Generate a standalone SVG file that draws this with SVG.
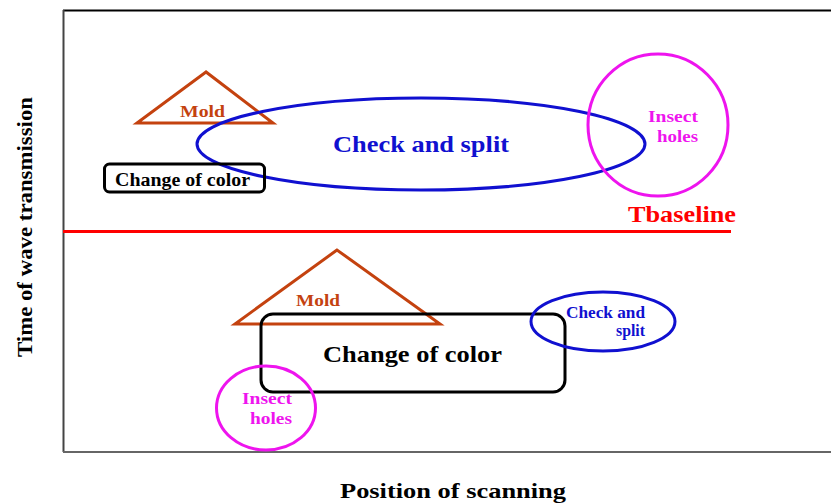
<svg xmlns="http://www.w3.org/2000/svg" width="831" height="503" viewBox="0 0 831 503">
  <style>
    text { font-family: "Liberation Serif", "Times New Roman", serif; font-weight: bold; }
    .mold { fill: none; stroke: #c4420f; stroke-width: 3; }
    .check { fill: none; stroke: #1010d0; stroke-width: 3; }
    .insect { fill: none; stroke: #ee14ee; stroke-width: 3; }
    .color { fill: none; stroke: #000; stroke-width: 3; }
    .t-mold { fill: #c4420f; }
    .t-check { fill: #1010d0; }
    .t-insect { fill: #ee14ee; }
    .t-color { fill: #000; }
  </style>
  <rect width="831" height="503" fill="#fff"/>

  <!-- plot frame -->
  <g id="frame">
    <line x1="63" y1="10.5" x2="831" y2="10.5" stroke="#000" stroke-width="2"/>
    <line x1="63.5" y1="10" x2="63.5" y2="452" stroke="#444" stroke-width="2"/>
    <line x1="63" y1="452" x2="831" y2="452" stroke="#666" stroke-width="2"/>
  </g>

  <!-- baseline threshold -->
  <g id="baseline">
    <line x1="63" y1="231.5" x2="731" y2="231.5" stroke="#ff0000" stroke-width="3"/>
    <text x="628" y="222" font-size="23" fill="#ff0000" textLength="108" lengthAdjust="spacingAndGlyphs">Tbaseline</text>
  </g>

  <!-- above baseline -->
  <g id="mold-top">
    <polygon class="mold" points="206,72 137,123 273,123"/>
    <text class="t-mold" x="180" y="117" font-size="16.5" textLength="45" lengthAdjust="spacingAndGlyphs">Mold</text>
  </g>
  <g id="check-top">
    <ellipse class="check" cx="421" cy="144" rx="224" ry="46"/>
    <text class="t-check" x="333" y="152" font-size="23" textLength="176" lengthAdjust="spacingAndGlyphs">Check and split</text>
  </g>
  <g id="insect-top">
    <ellipse class="insect" cx="658" cy="125" rx="70" ry="71"/>
    <text class="t-insect" x="648" y="122" font-size="17" textLength="50" lengthAdjust="spacingAndGlyphs">Insect</text>
    <text class="t-insect" x="657" y="142" font-size="17" textLength="41" lengthAdjust="spacingAndGlyphs">holes</text>
  </g>
  <g id="color-top">
    <rect class="color" x="104.5" y="164" width="160" height="28" rx="5"/>
    <text class="t-color" x="115" y="186" font-size="18" textLength="135" lengthAdjust="spacingAndGlyphs">Change of color</text>
  </g>

  <!-- below baseline -->
  <g id="mold-bottom">
    <polygon class="mold" points="337,250 235,324 440,324"/>
    <text class="t-mold" x="296" y="306" font-size="17.5" textLength="44" lengthAdjust="spacingAndGlyphs">Mold</text>
  </g>
  <g id="color-bottom">
    <rect class="color" x="261" y="314" width="304" height="78" rx="12"/>
    <text class="t-color" x="323" y="362" font-size="23" textLength="179" lengthAdjust="spacingAndGlyphs">Change of color</text>
  </g>
  <g id="check-bottom">
    <ellipse class="check" cx="603" cy="321.5" rx="72" ry="29.5"/>
    <text class="t-check" x="566" y="318" font-size="16" textLength="79" lengthAdjust="spacingAndGlyphs">Check and</text>
    <text class="t-check" x="616" y="336" font-size="16" textLength="29" lengthAdjust="spacingAndGlyphs">split</text>
  </g>
  <g id="insect-bottom">
    <ellipse class="insect" cx="266" cy="408" rx="49.5" ry="42"/>
    <text class="t-insect" x="242" y="404" font-size="17" textLength="50" lengthAdjust="spacingAndGlyphs">Insect</text>
    <text class="t-insect" x="250" y="424" font-size="17" textLength="42" lengthAdjust="spacingAndGlyphs">holes</text>
  </g>

  <!-- axis titles -->
  <g id="axes">
    <text x="340" y="498" font-size="22" textLength="226" lengthAdjust="spacingAndGlyphs">Position of scanning</text>
    <text transform="translate(32,357) rotate(-90)" font-size="22" textLength="260" lengthAdjust="spacingAndGlyphs">Time of wave transmission</text>
  </g>
</svg>
